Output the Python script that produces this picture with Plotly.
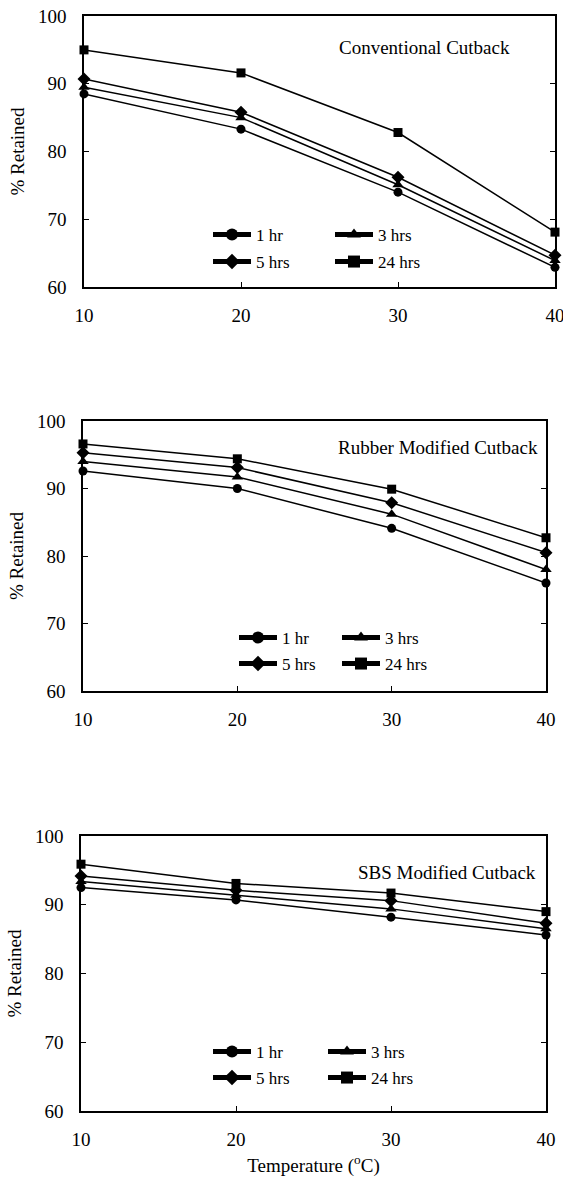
import plotly.graph_objects as go

# ---------------- data ----------------
temperature = [10, 20, 30, 40]
series_names = ["1 hr", "3 hrs", "5 hrs", "24 hrs"]

conventional = {
    "1 hr":   [88.5, 83.3, 74.0, 62.9],
    "3 hrs":  [89.5, 85.0, 75.1, 63.9],
    "5 hrs":  [90.7, 85.8, 76.2, 64.7],
    "24 hrs": [95.0, 91.6, 82.8, 68.1],
}
rubber = {
    "1 hr":   [92.6, 90.0, 84.1, 76.0],
    "3 hrs":  [94.0, 91.7, 86.2, 78.0],
    "5 hrs":  [95.3, 93.1, 87.9, 80.5],
    "24 hrs": [96.6, 94.4, 89.9, 82.7],
}
sbs = {
    "1 hr":   [92.5, 90.7, 88.2, 85.6],
    "3 hrs":  [93.4, 91.4, 89.4, 86.5],
    "5 hrs":  [94.2, 92.1, 90.6, 87.3],
    "24 hrs": [95.9, 93.1, 91.7, 89.0],
}
panel_titles = ["Conventional Cutback", "Rubber Modified Cutback", "SBS Modified Cutback"]
y_ticks = [60, 70, 80, 90, 100]
x_ticks = [10, 20, 30, 40]

# ---------------- styling ----------------
W, H = 563, 1182
FONT = "Liberation Serif"
symbols = {"1 hr": "circle", "3 hrs": "triangle-up", "5 hrs": "diamond", "24 hrs": "square"}
msize = {"1 hr": 9, "3 hrs": 10, "5 hrs": 10, "24 hrs": 9}
ITEMW = 38

# panel boxes in pixels: (left, right, top, bottom)
boxes = [(84, 555, 16, 287), (83, 546, 421, 691), (81, 546, 836, 1111)]
# legend placement: (line start x, row1 center y, row2 center y, column pitch)
legend_pos = [(213, 235, 262, 122), (239, 638, 664, 103), (213, 1052, 1078, 115)]
# annotation (right x, center y)
ann_pos = [(512, 47), (540, 448), (538, 872)]

fig = go.Figure()
datasets = [conventional, rubber, sbs]

layout = dict(
    width=W, height=H,
    margin=dict(l=0, r=0, t=0, b=0),
    paper_bgcolor="white", plot_bgcolor="white",
    font=dict(family=FONT, size=19, color="black"),
    showlegend=True,
    template="none",
    annotations=[],
)

for p, data in enumerate(datasets):
    ax = "" if p == 0 else str(p + 1)
    la = "legend" if p == 0 else f"legend{2 * p + 1}"
    lb = f"legend{2 * p + 2}"
    for i, name in enumerate(series_names):
        leg = la if i in (0, 1) else lb
        fig.add_trace(go.Scatter(
            x=temperature, y=data[name], name=name, mode="lines+markers",
            xaxis="x" + ax, yaxis="y" + ax, legend=leg,
            line=dict(color="black", width=1.5),
            marker=dict(symbol=symbols[name], size=msize[name], color="black"),
            cliponaxis=False,
        ))
    l, r, t, b = boxes[p]
    xd = [l / W, r / W]
    yd = [1 - b / H, 1 - t / H]
    layout["xaxis" + ax] = dict(
        domain=xd, range=[10, 40], tickvals=x_ticks, anchor="y" + ax,
        showline=True, linecolor="black", linewidth=1.5, mirror=True,
        ticks="inside", ticklen=5, tickwidth=1.2, tickcolor="black",
        showgrid=False, zeroline=False, ticklabelstandoff=10,
        ticklabeloverflow="allow",
        tickfont=dict(family=FONT, size=19),
    )
    layout["yaxis" + ax] = dict(
        domain=yd, range=[60, 100], tickvals=y_ticks, anchor="x" + ax,
        showline=True, linecolor="black", linewidth=1.5, mirror="ticks",
        ticks="inside", ticklen=5, tickwidth=1.2, tickcolor="black",
        showgrid=False, zeroline=False, ticklabelstandoff=12,
        ticklabeloverflow="allow",
        tickfont=dict(family=FONT, size=19),
        title=dict(text="% Retained", font=dict(family=FONT, size=19), standoff=8),
    )
    lx, r1, r2, pitch = legend_pos[p]
    ew = pitch - (ITEMW + 10) - 5
    for key, ry in ((la, r1), (lb, r2)):
        layout[key] = dict(
            x=(lx - 5) / W, y=1 - ry / H, xanchor="left", yanchor="middle",
            orientation="h", bgcolor="rgba(0,0,0,0)", borderwidth=0,
            entrywidth=ew, entrywidthmode="pixels", itemwidth=ITEMW,
            font=dict(family=FONT, size=17, color="black"),
            tracegroupgap=0, itemsizing="constant",
        )
    ax_r, ay = ann_pos[p]
    layout["annotations"].append(dict(
        text=panel_titles[p], xref="paper", yref="paper",
        x=ax_r / W, y=1 - ay / H, xanchor="right", yanchor="middle",
        showarrow=False, font=dict(family=FONT, size=19, color="black"),
    ))

layout["xaxis3"]["title"] = dict(text="Temperature (<sup>o</sup>C)",
                                 font=dict(family=FONT, size=19), standoff=10)

fig.update_layout(**layout)
fig.write_html("out.html", config={"displayModeBar": False},
               post_script="document.body.style.margin='0';document.body.style.overflow='hidden';")
